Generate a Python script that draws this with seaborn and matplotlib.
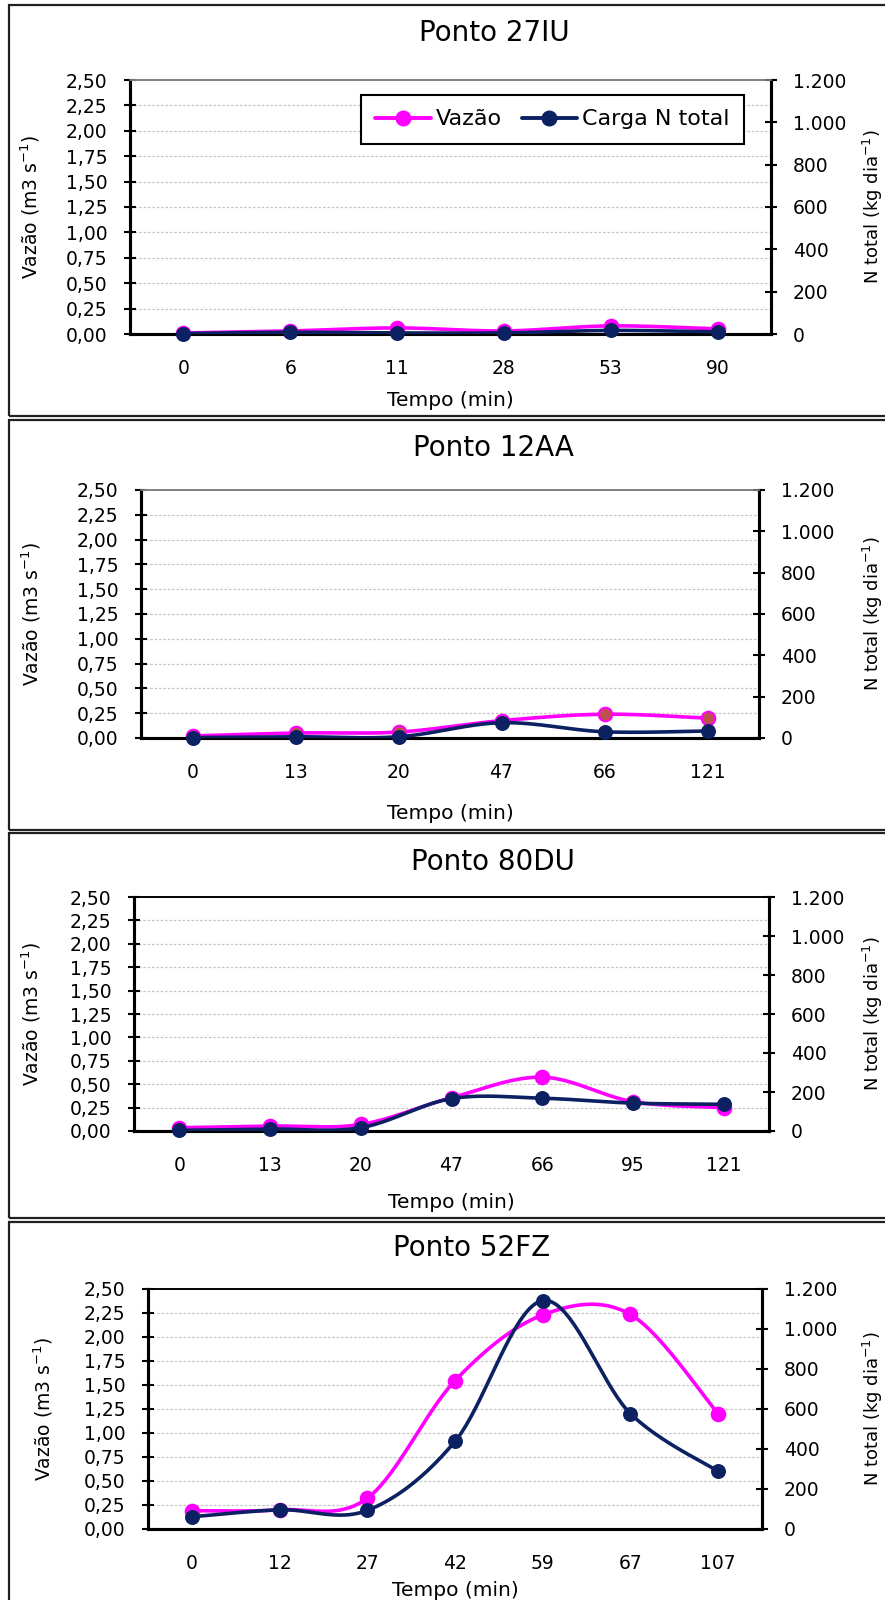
import numpy as np
import pandas as pd
import matplotlib
matplotlib.use("Agg")
import matplotlib.pyplot as plt
import seaborn as sns
from matplotlib.patches import Rectangle
from matplotlib.lines import Line2D
from matplotlib.ticker import FuncFormatter

# ---- data -------------------------------------------------------------
titulos = ["Ponto 27IU", "Ponto 12AA", "Ponto 80DU", "Ponto 52FZ"]

tempo_27IU = ["0", "6", "11", "28", "53", "90"]
vazao_27IU = [0.01, 0.03, 0.06, 0.03, 0.08, 0.05]
carga_27IU = [2, 8, 5, 5, 17, 10]

tempo_12AA = ["0", "13", "20", "47", "66", "121"]
vazao_12AA = [0.02, 0.05, 0.06, 0.175, 0.24, 0.20]
carga_12AA = [2, 6, 6, 74, 30, 34]

tempo_80DU = ["0", "13", "20", "47", "66", "95", "121"]
vazao_80DU = [0.035, 0.053, 0.07, 0.356, 0.575, 0.313, 0.25]
carga_80DU = [3, 10, 17, 166, 168, 143, 137]

tempo_52FZ = ["0", "12", "27", "42", "59", "67", "107"]
vazao_52FZ = [0.19, 0.20, 0.32, 1.545, 2.23, 2.235, 1.20]
carga_52FZ = [61, 96, 93, 438, 1142, 577, 288]

series = [
    (tempo_27IU, vazao_27IU, carga_27IU),
    (tempo_12AA, vazao_12AA, carga_12AA),
    (tempo_80DU, vazao_80DU, carga_80DU),
    (tempo_52FZ, vazao_52FZ, carga_52FZ),
]

# ---- layout (pixels in a 885 x 1600 canvas) ---------------------------
W, H = 885, 1600
axes_px = [  # left, top, right, bottom of plotting area
    (130, 80, 771, 334),
    (141, 490, 759, 738),
    (134, 897, 769, 1131),
    (148, 1289, 762, 1529),
]
boxes_px = [(9, 5, 416), (9, 420, 830), (9, 833, 1218), (9, 1222, 1640)]
title_px = [(494, 33), (493, 448), (493, 862), (472, 1248)]
xlabel_py = [400, 813, 1203, 1590]
ylab_left_px = [30, 31, 31, 43]
top_spine_color = ["#808080", "#808080", "black", "black"]
pink_face = ["#FF00FF", "#C0504D", "#FF00FF", "#FF00FF"]

PINK = "#FF00FF"
NAVY = "#0B2161"

sns.set_style("white")
plt.rcParams["font.family"] = ["DejaVu Sans"]
plt.rcParams["mathtext.default"] = "regular"
plt.rcParams["text.color"] = "black"

fig = plt.figure(figsize=(W / 100, H / 100), dpi=100)


def fx(x):
    return x / W


def fy(y):
    return 1 - y / H


def smooth(xs, ys, sx, sy, n=40):
    """Bezier smoothing through points, computed in screen-like units."""
    P = np.column_stack([np.asarray(xs, float) * sx, np.asarray(ys, float) * sy])
    segs = []
    for i in range(len(P) - 1):
        p0 = P[max(i - 1, 0)]
        p1 = P[i]
        p2 = P[i + 1]
        p3 = P[min(i + 2, len(P) - 1)]
        c1 = p1 + (p2 - p0) / 6.0
        c2 = p2 - (p3 - p1) / 6.0
        t = np.linspace(0, 1, n)[:, None]
        seg = (1 - t) ** 3 * p1 + 3 * (1 - t) ** 2 * t * c1 + 3 * (1 - t) * t ** 2 * c2 + t ** 3 * p2
        segs.append(seg if i == 0 else seg[1:])
    pts = np.vstack(segs)
    return pts[:, 0] / sx, pts[:, 1] / sy


left_fmt = FuncFormatter(lambda v, p: f"{v:.2f}".replace(".", ","))
right_fmt = FuncFormatter(lambda v, p: f"{int(round(v)):,}".replace(",", "."))

for k, (tempo, vazao, carga) in enumerate(series):
    # panel frame
    bx, btop, bbot = boxes_px[k]
    fig.add_artist(Rectangle((fx(bx), fy(bbot)), fx(W + 40 - bx), (bbot - btop) / H,
                             transform=fig.transFigure, fill=False,
                             edgecolor="#202020", lw=1.6, clip_on=False))

    l, t, r, b = axes_px[k]
    ax = fig.add_axes([fx(l), fy(b), (r - l) / W, (b - t) / H])
    ax2 = ax.twinx()
    n = len(tempo)
    pos = np.arange(n)

    ax.set_xlim(-0.5, n - 0.5)
    ax.set_ylim(0, 2.5)
    ax2.set_ylim(0, 1200)

    # dotted horizontal gridlines
    for g in np.arange(0.25, 2.5, 0.25):
        ax.axhline(g, color="#C4C4C4", lw=0.9, ls=(0, (2.0, 1.5)), zorder=0)

    sx = (r - l) / n
    sy1 = (b - t) / 2.5
    sy2 = (b - t) / 1200.0

    cx, cy = smooth(pos, vazao, sx, sy1)
    sns.lineplot(x=cx, y=cy, ax=ax, color=PINK, lw=2.6, sort=False,
                 estimator=None, zorder=3)
    sns.scatterplot(x=pos, y=vazao, ax=ax, color=pink_face[k], edgecolor=PINK,
                    linewidth=1.5, s=95, zorder=4, clip_on=False)

    cx2, cy2 = smooth(pos, carga, sx, sy2)
    sns.lineplot(x=cx2, y=cy2, ax=ax2, color=NAVY, lw=2.6, sort=False,
                 estimator=None, zorder=3)
    sns.scatterplot(x=pos, y=carga, ax=ax2, color=NAVY, edgecolor=NAVY,
                    linewidth=1.0, s=95, zorder=4, clip_on=False)

    # x axis
    ax.set_xticks(pos)
    ax.set_xticklabels(tempo)
    ax.tick_params(axis="x", direction="in", length=4, width=1.2, labelsize=13.5,
                   pad=18, colors="black")
    # left axis
    ax.set_yticks(np.arange(0, 2.51, 0.25))
    ax.yaxis.set_major_formatter(left_fmt)
    ax.tick_params(axis="y", direction="inout", length=8.6, width=1.5,
                   labelsize=13.5, pad=12, colors="black")
    # right axis
    ax2.set_yticks(np.arange(0, 1201, 200))
    ax2.yaxis.set_major_formatter(right_fmt)
    ax2.tick_params(axis="y", direction="inout", length=8.6, width=1.5,
                    labelsize=13.5, pad=11.5, colors="black")
    ax.set_xlabel("")
    ax.set_ylabel("")
    ax2.set_ylabel("")

    for a in (ax, ax2):
        a.spines["left"].set_color("black")
        a.spines["right"].set_color("black")
        a.spines["bottom"].set_color("black")
        a.spines["top"].set_color(top_spine_color[k])
        a.spines["left"].set_linewidth(2.2)
        a.spines["right"].set_linewidth(2.2)
        a.spines["bottom"].set_linewidth(2.2)
        a.spines["top"].set_linewidth(1.2)
    ax.set_facecolor("none")
    ax2.set_facecolor("none")

    tx, ty = title_px[k]
    fig.text(fx(tx), fy(ty), titulos[k], fontsize=20, ha="center", va="center",
             color="black")
    fig.text(fx((l + r) / 2), fy(xlabel_py[k]), "Tempo (min)", fontsize=14.5,
             ha="center", va="center", color="black")
    fig.text(fx(ylab_left_px[k]), fy((t + b) / 2), "Vazão (m3 s$^{-1}$)",
             fontsize=13.5, rotation=90, ha="center", va="center", color="black")
    fig.text(fx(873), fy((t + b) / 2), "N total (kg dia$^{-1}$)",
             fontsize=13, rotation=90, ha="center", va="center", color="black")

    if k == 0:
        handles = [
            Line2D([], [], color=PINK, lw=2.8, marker="o", markersize=10.5,
                   markerfacecolor=PINK, markeredgecolor=PINK),
            Line2D([], [], color=NAVY, lw=2.8, marker="o", markersize=10.5,
                   markerfacecolor=NAVY, markeredgecolor=NAVY),
        ]
        leg = fig.legend(handles, ["Vazão", "Carga N total"], loc="upper left",
                         bbox_to_anchor=(fx(361), fy(95)), ncol=2, frameon=True,
                         fancybox=False, edgecolor="black", framealpha=1,
                         fontsize=16, handlelength=2.5, columnspacing=0.9,
                         handletextpad=0.2, borderpad=0.65, borderaxespad=0)
        leg.get_frame().set_linewidth(1.5)
        for txt in leg.get_texts():
            txt.set_color("black")

fig.savefig("out.png", dpi=100)
